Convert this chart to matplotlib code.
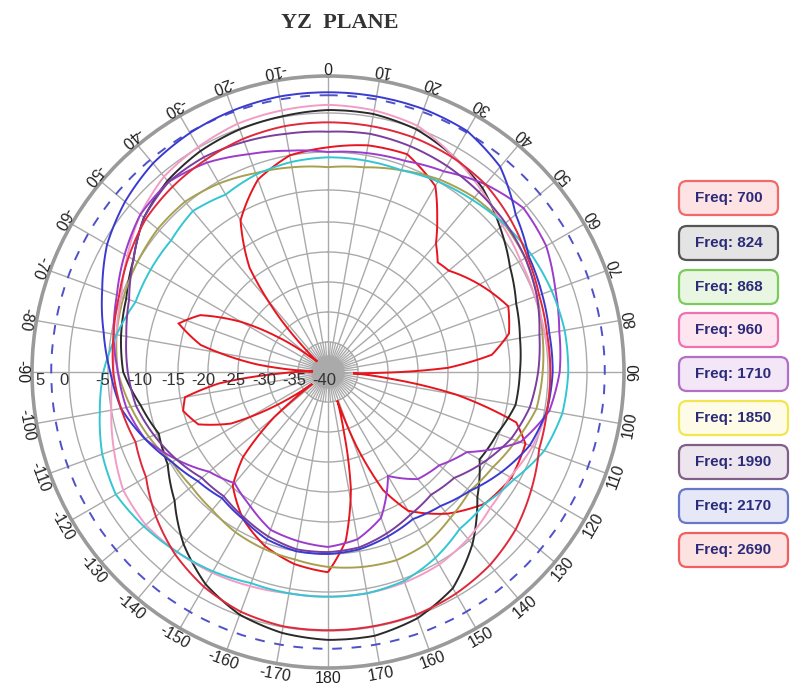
import numpy as np
import matplotlib
matplotlib.use("Agg")
import matplotlib.pyplot as plt
from matplotlib.patches import FancyBboxPatch, PathPatch
from matplotlib.path import Path

# ---------------- data (gain in dB vs angle in degrees, 0 = top, clockwise) ----------------
angles = list(range(-180, 180, 10))

freq_labels = ["Freq: 700", "Freq: 824", "Freq: 868", "Freq: 960", "Freq: 1710",
               "Freq: 1850", "Freq: 1990", "Freq: 2170", "Freq: 2690"]

g700_angles = [-180, -170, -160, -150, -140, -135, -130, -127, -123, -118, -112, -105, -100,
               -96, -92, -88, -84, -78, -72, -66, -60, -55, -50, -46, -42, -37, -30, -20, -10,
               0, 10, 20, 30, 35, 40, 45, 50, 60, 70, 78, 84, 88, 91, 93, 96, 100, 105, 110,
               120, 130, 140, 150, 155, 159, 162, 165, 169, 174]
g700 = [-7.6, -8.3, -9.6, -11.9, -15.3, -20.0, -28.3, -36.7, -30.0, -21.7, -16.7, -15.0, -15.8,
        -21.7, -31.7, -37.5, -28.3, -18.3, -13.9, -16.7, -23.3, -30.0, -35.8, -37.5, -28.3, -18.3,
        -11.1, -7.0, -5.0, -4.4, -3.7, -3.5, -5.7, -8.9, -12.2, -14.2, -13.8, -11.1, -8.7, -9.6,
        -12.7, -20.0, -31.7, -35.8, -30.0, -18.3, -8.3, -6.3, -6.1, -7.0, -9.6, -13.4, -18.3,
        -26.7, -35.0, -30.0, -20.0, -11.9]

g824 = [1.2, 0.8, -0.1, -1.8, -4.4, -7.6, -9.6, -10.3, -8.9, -7.0, -6.3, -5.7, -4.4, -2.4, -1.2,
        -0.5, -0.1, 0.1, 0.4, 0.4, -0.1, -1.2, -2.4, -4.4, -6.3, -7.6, -8.3, -8.7, -8.9, -10.3,
        -11.1, -8.3, -4.4, -1.2, 0.4, 1.2]
g868 = [-8.3, -8.9, -9.2, -9.6, -10.3, -10.6, -10.3, -8.9, -7.6, -6.3, -5.7, -5.3, -5.0, -4.7,
        -4.7, -5.3, -6.1, -6.6, -7.0, -6.6, -5.7, -4.7, -4.0, -3.7, -4.0, -4.7, -5.3, -5.7, -6.1,
        -7.6, -8.9, -9.6, -8.9, -7.9, -7.6, -7.9]
g960 = [-4.4, -4.4, -4.0, -3.5, -3.1, -2.7, -2.9, -4.0, -5.0, -5.7, -5.7, -5.0, -3.5, -1.8, -0.5,
        0.1, 0.7, 0.9, 1.1, 0.9, 0.4, -1.2, -2.7, -4.0, -4.7, -5.0, -5.0, -4.7, -4.7, -5.3, -6.3,
        -6.1, -5.3, -4.7, -4.5, -4.4]
g1710 = [-11.1, -11.6, -12.2, -14.2, -15.8, -14.2, -11.1, -8.3, -7.0, -6.3, -5.3, -4.4, -3.1,
         -1.8, -1.4, -2.2, -3.5, -4.4, -5.0, -4.7, -4.4, -3.5, -1.8, -0.5, -0.9, -2.2, -3.1, -3.5,
         -4.4, -7.0, -13.4, -15.8, -16.7, -20.0, -14.2, -11.9]
g1850 = [-4.4, -4.4, -4.4, -3.7, -3.1, -2.4, -1.8, -2.4, -3.5, -4.4, -5.7, -7.0, -7.0, -7.0,
         -6.3, -7.0, -6.3, -5.9, -5.7, -5.7, -5.7, -5.0, -4.4, -3.7, -3.1, -2.7, -2.4, -2.4, -2.7,
         -3.7, -5.7, -7.0, -7.0, -5.7, -4.7, -4.4]
g1990 = [-10.3, -10.3, -11.1, -12.2, -13.1, -12.7, -11.1, -9.6, -8.3, -7.6, -7.0, -6.1, -4.4,
         -2.4, -1.4, -1.4, -1.8, -2.2, -2.4, -2.2, -2.4, -2.7, -3.1, -3.5, -4.0, -4.7, -5.7, -6.3,
         -7.0, -8.3, -10.3, -12.7, -13.4, -12.7, -11.6, -10.6]
g2170 = [-10.0, -10.0, -10.6, -11.9, -12.7, -11.9, -10.3, -8.3, -6.3, -5.3, -4.0, -2.4, -0.5,
         0.8, 1.8, 2.3, 2.6, 2.8, 2.8, 2.8, 2.8, 2.6, 1.2, -1.8, -3.5, -4.0, -4.4, -4.4, -4.7,
         -5.7, -7.6, -9.6, -11.1, -11.9, -11.1, -10.3]
g2690 = [-0.1, -0.1, -0.5, -1.4, -2.7, -4.4, -6.3, -7.0, -6.3, -5.7, -5.3, -4.7, -3.7, -2.7,
         -2.2, -1.8, -1.4, -1.2, -1.2, -1.2, -1.2, -1.4, -1.8, -2.7, -3.7, -4.4, -4.7, -4.7, -4.7,
         -4.4, -3.1, -1.8, -0.9, -0.4, -0.1, -0.1]

ring_levels = [-40, -35, -30, -25, -20, -15, -10, -5, 0, 5]
angle_ticks = list(range(-170, 181, 10))
ref_level = 2.4  # dashed reference circle

# ---------------- styles ----------------
line_colors = ["#e8141e", "#2a2a2a", "#a8a050", "#f29cc6", "#9b3ccc",
               "#33c6d2", "#7a3e9e", "#3a3ad0", "#e0283a"]
box_edges = ["#f06a6a", "#555555", "#7ccc5c", "#f070b0", "#b070c8",
             "#f2e650", "#806088", "#6878c8", "#f06060"]
box_faces = ["#fde3e3", "#e4e4e4", "#e8f6e2", "#fde6f0", "#f3e6f7",
             "#fefce6", "#eee6ee", "#e6e8f8", "#fde2e2"]

# nonlinear radial scale (dB -> radius)
_scale_db = [-40, -35, -30, -25, -20, -15, -10, -5, 0, 5, 10]
_scale_r = [0, 30, 60, 90, 120, 150, 182, 220, 259, 296, 333]


def fwd(v):
    return np.interp(v, _scale_db, _scale_r)


def inv(r):
    return np.interp(r, _scale_r, _scale_db)


W, H = 799, 687
fig = plt.figure(figsize=(W / 100, H / 100), dpi=100)
cx, cy, R = 328, 372, 296
ax = fig.add_axes([(cx - R) / W, (H - cy - R) / H, 2 * R / W, 2 * R / H], projection="polar")
ax.set_theta_zero_location("N")
ax.set_theta_direction(-1)
ax.set_rscale("function", functions=(fwd, inv))
ax.set_rlim(-40, 5)

grid_col = "#aaaaaa"
ax.set_thetagrids(np.arange(0, 360, 10), labels=[""] * 36)
ax.set_rgrids(ring_levels[1:-1], labels=[""] * (len(ring_levels) - 2))
ax.grid(True, color=grid_col, lw=1.0)
ax.spines["polar"].set_color("#9a9a9a")
ax.spines["polar"].set_linewidth(2.6)

# dense spokes at the centre
for a in np.arange(0, 360, 5):
    if a % 10:
        ax.plot([np.deg2rad(a)] * 2, [-40, -35], color=grid_col, lw=0.9, zorder=1)
for a in np.arange(2.5, 360, 5):
    ax.plot([np.deg2rad(a)] * 2, [-40, -37.3], color=grid_col, lw=0.8, zorder=1)


def polar_curve(th_deg, vals, **kw):
    th = np.deg2rad(np.asarray(th_deg, dtype=float))
    verts = np.column_stack([th, np.asarray(vals, dtype=float)])
    path = Path(verts, _interpolation_steps=24)
    patch = PathPatch(path, fill=False, transform=ax.transData, **kw)
    ax.add_patch(patch)


# dashed reference circle
polar_curve([0, 90, 180, 270, 360], [ref_level] * 5, ec="#5050c8", lw=1.4,
            ls=(0, (5, 5)), zorder=2)

# curves
series = [(g700_angles, g700), (angles, g824), (angles, g868), (angles, g960), (angles, g1710),
          (angles, g1850), (angles, g1990), (angles, g2170), (angles, g2690)]
for (ang, vals), col in zip(series, line_colors):
    polar_curve(list(ang) + [ang[0] + 360], list(vals) + [vals[0]], ec=col, lw=1.4, zorder=3)

# radial labels along -90 direction
for lv in ring_levels:
    pos = lv + 0.7 if lv < 5 else 3.9
    ax.annotate(str(lv), xy=(np.deg2rad(-90), pos), xytext=(0, -1), textcoords="offset points",
                ha="center", va="top", fontsize=12, color="#333333",
                family="Liberation Sans", zorder=5, annotation_clip=False)

# angle labels around the rim, tops facing the centre
k = 1.036
for a in angle_ticks:
    t = np.deg2rad(a)
    x = 0.5 + 0.5 * k * np.sin(t)
    y = 0.5 + 0.5 * k * np.cos(t)
    ax.text(x, y, str(a), transform=ax.transAxes, ha="center", va="center",
            rotation=(180 - a) % 360, rotation_mode="anchor", fontsize=11.5,
            color="#222222", family="Liberation Sans", clip_on=False)

# title
fig.text(340 / W, 1 - 23 / H, "YZ  PLANE", ha="center", va="center", fontsize=16,
         family="Liberation Serif", weight="bold", color="#333333")

# legend boxes
centers = [198, 243, 287, 330, 374, 418, 462, 506, 550]
for lab, cyp, ec, fc in zip(freq_labels, centers, box_edges, box_faces):
    wbox = 99 if len(lab) < 10 else 109
    hbox = 34
    x0 = 679
    p = FancyBboxPatch(((x0 + 5) / W, (H - cyp - hbox / 2 + 5) / H), (wbox - 10) / W, (hbox - 10) / H,
                       boxstyle="round,pad=0.0,rounding_size=0.008", transform=fig.transFigure,
                       ec=ec, fc=fc, lw=1.6, mutation_aspect=W / H)
    p.set_boxstyle("round", pad=5 / W, rounding_size=8 / W)
    fig.patches.append(p)
    fig.text((x0 + wbox / 2) / W, 1 - cyp / H, lab, ha="center", va="center", fontsize=11,
             weight="bold", color="#2b2b7a", family="Liberation Sans")

fig.savefig("out.png", dpi=100)
